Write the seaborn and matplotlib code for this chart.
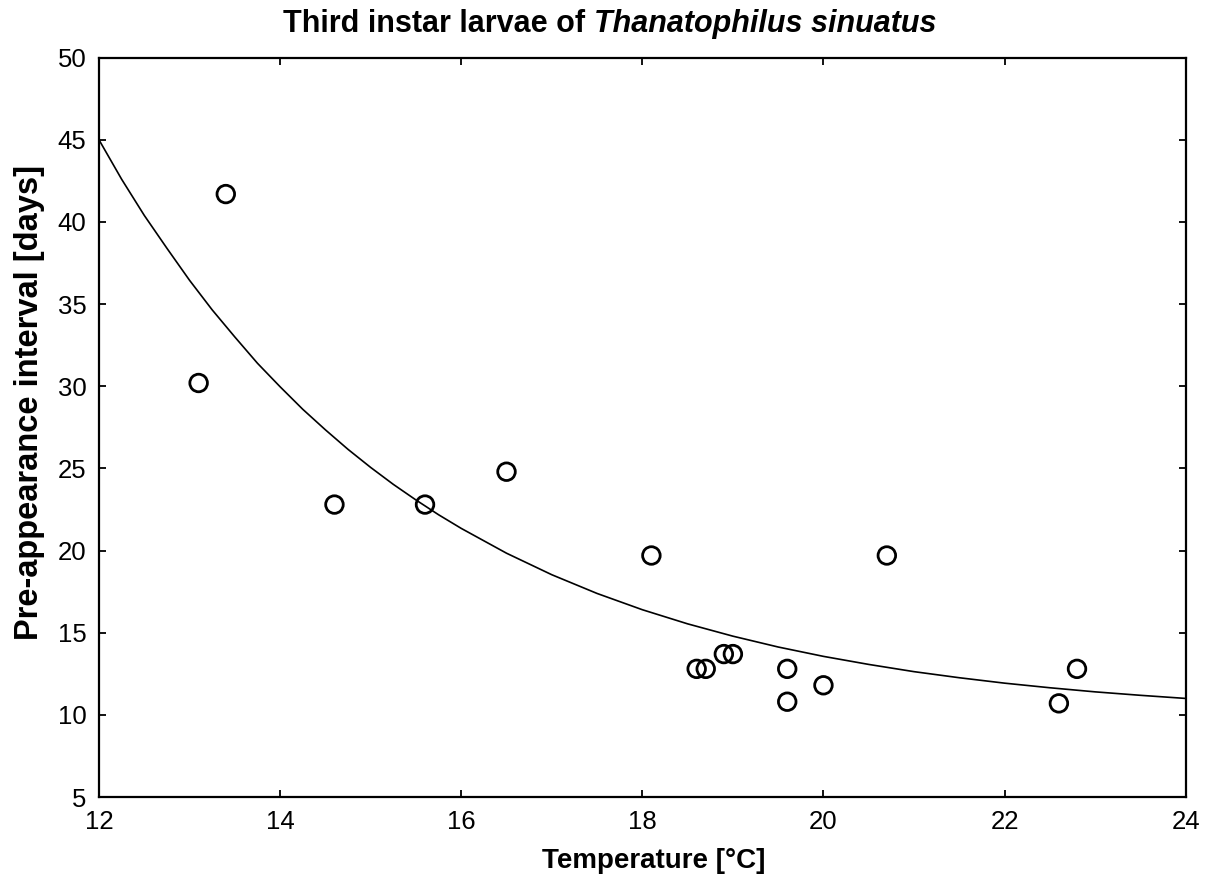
import matplotlib
matplotlib.use("Agg")
import matplotlib.pyplot as plt
import numpy as np
import pandas as pd
import seaborn as sns

# measured points: temperature vs pre-appearance interval
temperature = [13.1, 13.4, 14.6, 15.6, 16.5, 18.1, 18.6, 18.7, 18.9, 19.0,
               19.6, 19.6, 20.0, 20.7, 22.6, 22.8]
interval = [30.2, 41.7, 22.8, 22.8, 24.8, 19.7, 12.8, 12.8, 13.7, 13.7,
            12.8, 10.8, 11.8, 19.7, 10.7, 12.8]

# fitted curve (denser where it is steep)
curve_t = [12.0, 12.25, 12.5, 12.75, 13.0, 13.25, 13.5, 13.75, 14.0, 14.25, 14.5, 14.75,
           15.0, 15.25, 15.5, 15.75, 16.0, 16.5, 17.0, 17.5, 18.0, 18.5, 19.0, 19.5,
           20.0, 20.5, 21.0, 21.5, 22.0, 22.5, 23.0, 23.5, 24.0]
curve_d = [45.0, 42.6, 40.4, 38.4, 36.45, 34.65, 33.0, 31.4, 29.97, 28.6, 27.35, 26.16,
           25.06, 24.03, 23.08, 22.18, 21.35, 19.84, 18.53, 17.39, 16.4, 15.54, 14.79, 14.13,
           13.56, 13.07, 12.63, 12.26, 11.93, 11.65, 11.4, 11.19, 11.0]

pts = pd.DataFrame({'T': temperature, 'D': interval})
fit = pd.DataFrame({'T': curve_t, 'D': curve_d})

sns.set_theme(style='ticks')
plt.rcParams['font.family'] = ['Liberation Sans', 'DejaVu Sans']
plt.rcParams['text.color'] = 'black'
plt.rcParams['axes.labelcolor'] = 'black'

fig = plt.figure(figsize=(12.09, 8.92), dpi=100)
ax = fig.add_axes([0.0819, 0.1065, 0.8988, 0.8288])

sns.lineplot(data=fit, x='T', y='D', color='black', linewidth=1.2, ax=ax)
sns.scatterplot(data=pts, x='T', y='D', s=160, facecolor='none', edgecolor='black',
                linewidth=2.0, ax=ax, zorder=3)

ax.set_xlim(12, 24)
ax.set_ylim(5, 50)
ax.set_xticks(range(12, 25, 2))
ax.set_yticks(range(5, 51, 5))
ax.tick_params(direction='in', length=5, width=1.3, labelsize=18.5, pad=9,
               top=True, right=True, colors='black', labelcolor='black')
for s in ax.spines.values():
    s.set_linewidth(1.6)
    s.set_color('black')

ax.set_xlabel('Temperature [°C]', fontsize=20, fontweight='bold', va='baseline')
ax.set_ylabel('Pre-appearance interval [days]', fontsize=23.5, fontweight='bold')
ax.xaxis.set_label_coords(0.51, -0.096)
ax.yaxis.set_label_coords(-0.05, 0.534)

# title: bold, species name bold italic
fig.canvas.draw()
r = fig.canvas.get_renderer()
t1 = fig.text(0, 0.964, 'Third instar larvae of ', fontsize=22, fontweight='bold', va='baseline')
t2 = fig.text(0, 0.964, 'Thanatophilus sinuatus', fontsize=22, fontweight='bold',
              fontstyle='italic', va='baseline')
w1 = t1.get_window_extent(r).width / fig.bbox.width
w2 = t2.get_window_extent(r).width / fig.bbox.width
x0 = 0.5045 - (w1 + w2) / 2
t1.set_x(x0)
t2.set_x(x0 + w1)

fig.savefig('out.png', dpi=100, facecolor='white')
